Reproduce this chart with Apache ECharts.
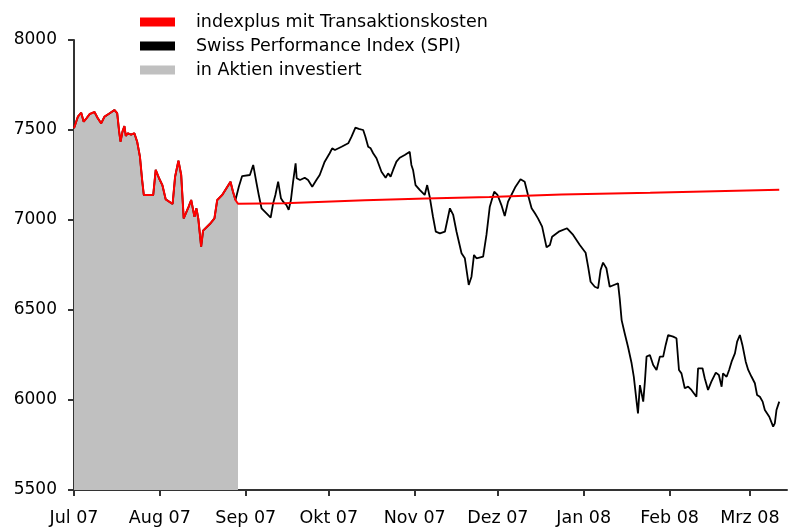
<!DOCTYPE html>
<html>
<head>
<meta charset="utf-8">
<script src="https://cdn.jsdelivr.net/npm/echarts@6/dist/echarts.min.js"></script>
<style>html,body{margin:0;padding:0;background:#fff}#c{width:790px;height:529px}</style>
</head>
<body>
<div id="c"></div>
<script>
// x values: days since 1 July 2007
var monthStartDays = [0, 31, 62, 92, 123, 153, 184, 215, 244];
var monthLabels = ['Jul 07', 'Aug 07', 'Sep 07', 'Okt 07', 'Nov 07', 'Dez 07', 'Jan 08', 'Feb 08', 'Mrz 08'];
var yTicks = [5500, 6000, 6500, 7000, 7500, 8000];

// invested period (indexplus = SPI)
var investedDays = [0, 1.4, 2.6, 3.5, 4.5, 5.7, 7.4, 8.6, 9.8, 11.0, 12.9, 14.6, 15.6, 16.3, 16.8, 17.5, 18.2, 18.7, 19.4, 20.6, 21.8, 22.8, 23.8, 24.6, 25.2, 28.6, 29.5, 30.7, 31.9, 33.1, 35.6, 36.5, 37.7, 38.7, 39.6, 41.4, 42.3, 43.5, 44.2, 44.9, 45.9, 46.6, 49.3, 50.7, 51.7, 53.5, 56.5, 57.4, 58.3];
var investedValues = [7510, 7574, 7596, 7546, 7565, 7589, 7600, 7565, 7537, 7574, 7593, 7611, 7593, 7491, 7435, 7491, 7522, 7467, 7482, 7474, 7482, 7435, 7352, 7222, 7139, 7139, 7278, 7232, 7194, 7115, 7089, 7241, 7329, 7250, 7009, 7074, 7111, 7018, 7065, 7004, 6852, 6941, 6982, 7009, 7111, 7139, 7213, 7157, 7111];

// indexplus after exit (cash)
var cashDays = [59.2, 76, 105, 127, 150, 176, 208, 254.6];
var cashValues = [7090, 7093, 7110, 7119, 7128, 7142, 7152, 7168];

// SPI after exit
var spiDays = [59.5, 60.7, 63.5, 64.7, 65.9, 66.7, 67.7, 69.5, 71.0, 71.9, 72.7, 73.7, 74.7, 75.5, 76.7, 77.5, 78.3, 79.1, 80.0, 80.4, 81.6, 83.3, 84.5, 86.0, 87.5, 88.7, 90.5, 92.3, 93.2, 94.2, 94.9, 96.6, 99.0, 100.2, 101.6, 102.8, 104.4, 105.2, 106.2, 107.1, 108.0, 109.2, 111.0, 112.5, 113.4, 114.3, 115.2, 116.4, 117.6, 119.4, 121.2, 121.8, 122.4, 123.3, 124.8, 126.6, 127.5, 128.4, 129.6, 130.6, 132.1, 133.9, 135.7, 136.9, 138.1, 139.9, 141.1, 141.7, 142.5, 143.5, 144.4, 145.3, 147.7, 148.9, 150.1, 151.7, 152.9, 154.3, 155.5, 156.7, 157.9, 159.4, 161.2, 162.7, 163.9, 165.2, 166.4, 167.5, 169.0, 170.6, 171.8, 172.6, 175.0, 178.0, 180.2, 182.6, 184.7, 185.6, 186.5, 188.0, 189.2, 190.1, 191.0, 192.2, 193.4, 194.9, 196.4, 197.0, 197.7, 198.8, 200.0, 201.3, 202.1, 203.1, 203.6, 204.3, 204.9, 205.5, 206.1, 206.7, 207.9, 209.1, 210.3, 211.5, 212.7, 213.6, 214.5, 216.3, 217.5, 218.4, 219.3, 220.5, 221.7, 222.9, 224.7, 225.3, 226.9, 227.7, 228.9, 230.1, 231.7, 232.8, 233.8, 234.3, 235.6, 236.5, 237.4, 238.6, 239.4, 240.4, 241.3, 242.5, 243.4, 244.6, 245.8, 246.6, 247.6, 248.6, 249.4, 251.0, 252.4, 253.0, 253.6, 254.6];
var spiValues = [7185, 7244, 7250, 7306, 7204, 7139, 7065, 7037, 7013, 7093, 7139, 7213, 7121, 7102, 7083, 7056, 7111, 7213, 7315, 7232, 7222, 7235, 7222, 7185, 7222, 7250, 7324, 7371, 7398, 7389, 7398, 7407, 7426, 7463, 7513, 7506, 7500, 7463, 7407, 7398, 7371, 7343, 7268, 7235, 7259, 7241, 7278, 7324, 7346, 7361, 7379, 7306, 7278, 7194, 7167, 7139, 7194, 7130, 7018, 6935, 6926, 6935, 7065, 7028, 6935, 6815, 6787, 6796, 6639, 6685, 6806, 6787, 6796, 6917, 7074, 7157, 7139, 7083, 7022, 7102, 7139, 7185, 7226, 7213, 7139, 7065, 7037, 7009, 6963, 6848, 6861, 6907, 6935, 6954, 6917, 6861, 6818, 6741, 6657, 6629, 6621, 6722, 6763, 6732, 6629, 6639, 6648, 6565, 6444, 6371, 6296, 6204, 6129, 5991, 5926, 6083, 6037, 5991, 6102, 6241, 6250, 6194, 6167, 6241, 6241, 6306, 6361, 6352, 6343, 6167, 6148, 6065, 6074, 6056, 6018, 6176, 6176, 6121, 6056, 6102, 6152, 6139, 6074, 6148, 6129, 6167, 6213, 6259, 6324, 6361, 6306, 6213, 6167, 6129, 6093, 6028, 6018, 5991, 5944, 5907, 5852, 5870, 5944, 5991];

var seriesNames = ['indexplus mit Transaktionskosten', 'Swiss Performance Index (SPI)', 'in Aktien investiert'];

function zip(xs, ys) { return xs.map(function (x, i) { return [x, ys[i]]; }); }
var investedPts = zip(investedDays, investedValues);
var redData = investedPts.concat(zip(cashDays, cashValues));
var spiData = investedPts.concat(zip(spiDays, spiValues));
var grayData = investedPts.concat([[cashDays[0], cashValues[0]]]);

var FONT = 'DejaVu Sans';
var chart = echarts.init(document.getElementById('c'));
chart.setOption({
  animation: false,
  backgroundColor: '#fff',
  textStyle: { fontFamily: FONT },
  grid: { left: 74, right: 3, top: 40, bottom: 39, containLabel: false },
  legend: {
    orient: 'vertical', left: 135, top: 8, itemWidth: 35, itemHeight: 9, itemGap: 6,
    icon: 'rect', selectedMode: false,
    data: seriesNames,
    textStyle: { fontFamily: FONT, fontSize: 17.5, color: '#000', padding: [0, 0, 0, 16] }
  },
  xAxis: {
    type: 'value', min: 0, max: 257.4,
    axisLine: { show: true, onZero: false, lineStyle: { color: '#333', width: 2 } },
    axisTick: { show: true, length: 6, customValues: monthStartDays, lineStyle: { color: '#333', width: 2 } },
    axisLabel: {
      customValues: monthStartDays, margin: 19, color: '#000', fontFamily: FONT, fontSize: 17.5,
      formatter: function (v) { var i = monthStartDays.indexOf(v); return i >= 0 ? monthLabels[i] : ''; }
    },
    splitLine: { show: false }
  },
  yAxis: {
    type: 'value', min: yTicks[0], max: yTicks[yTicks.length - 1], interval: 500,
    axisLine: { show: true, lineStyle: { color: '#333', width: 2 } },
    axisTick: { show: true, length: 6, lineStyle: { color: '#333', width: 2 } },
    axisLabel: { margin: 17, color: '#000', fontFamily: FONT, fontSize: 17, formatter: function (v) { return String(v); } },
    splitLine: { show: false }
  },
  series: [
    { name: seriesNames[2], type: 'line', data: grayData, symbol: 'none', color: '#c0c0c0',
      lineStyle: { width: 0 }, areaStyle: { color: '#c0c0c0', opacity: 1, origin: 'start' }, z: 1 },
    { name: seriesNames[1], type: 'line', data: spiData, symbol: 'none', color: '#000',
      lineStyle: { width: 1.8, color: '#000' }, z: 2 },
    { name: seriesNames[0], type: 'line', data: redData, symbol: 'none', color: '#ff0000',
      lineStyle: { width: 2, color: '#ff0000' }, z: 3 }
  ]
});
</script>
</body>
</html>
